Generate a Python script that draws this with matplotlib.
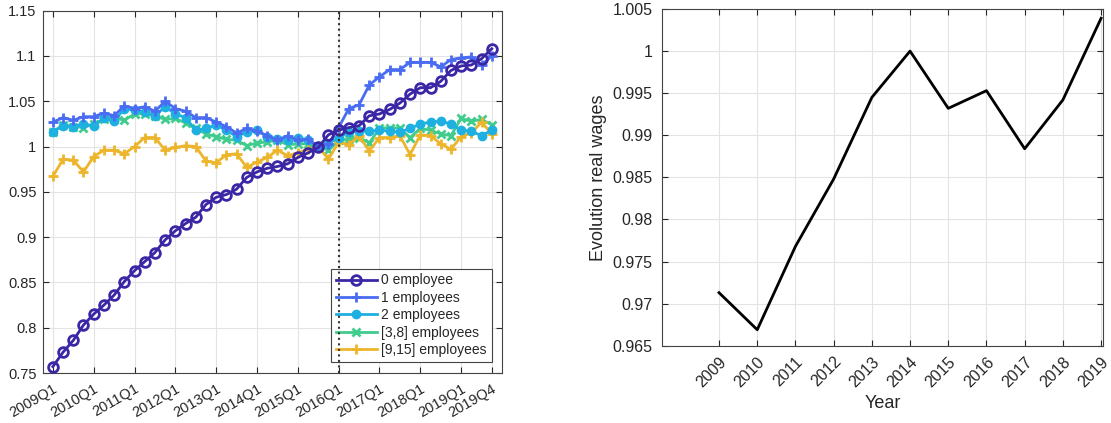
import numpy as np
import matplotlib
matplotlib.use('Agg')
import matplotlib.pyplot as plt
from matplotlib.ticker import FuncFormatter

plt.rcParams['font.family'] = ['Liberation Sans', 'DejaVu Sans']

# quarterly series, 2009Q1 .. 2019Q4
quarters = [f'{y}Q{q}' for y in range(2009, 2020) for q in range(1, 5)]

emp_0 = [0.757, 0.773, 0.786, 0.803, 0.815, 0.825, 0.836, 0.851, 0.863, 0.873,
         0.883, 0.897, 0.907, 0.915, 0.922, 0.936, 0.944, 0.947, 0.953, 0.966,
         0.972, 0.976, 0.978, 0.981, 0.988, 0.993, 0.999, 1.013, 1.018, 1.021,
         1.023, 1.034, 1.036, 1.041, 1.048, 1.058, 1.065, 1.065, 1.072, 1.084,
         1.089, 1.090, 1.097, 1.108]
emp_1 = [1.027, 1.032, 1.029, 1.033, 1.033, 1.037, 1.034, 1.045, 1.042, 1.044,
         1.039, 1.050, 1.042, 1.039, 1.032, 1.032, 1.027, 1.022, 1.015, 1.020,
         1.017, 1.012, 1.007, 1.012, 1.007, 1.008, 1.000, 1.003, 1.021, 1.042,
         1.046, 1.068, 1.077, 1.085, 1.085, 1.093, 1.093, 1.093, 1.088, 1.096,
         1.098, 1.099, 1.090, 1.100]
emp_2 = [1.016, 1.023, 1.022, 1.025, 1.023, 1.031, 1.028, 1.042, 1.040, 1.038,
         1.034, 1.044, 1.036, 1.032, 1.018, 1.020, 1.024, 1.018, 1.011, 1.016,
         1.018, 1.011, 1.008, 1.007, 1.010, 1.007, 1.001, 1.003, 1.010, 1.016,
         1.017, 1.017, 1.018, 1.017, 1.016, 1.020, 1.025, 1.027, 1.028, 1.025,
         1.018, 1.017, 1.012, 1.018]
emp_3_8 = [1.016, 1.024, 1.022, 1.021, 1.025, 1.030, 1.032, 1.029, 1.036, 1.036,
           1.034, 1.030, 1.031, 1.026, 1.020, 1.014, 1.011, 1.008, 1.007, 1.001,
           1.004, 1.005, 1.007, 1.002, 1.003, 1.003, 1.000, 0.996, 1.007, 1.008,
           1.010, 1.004, 1.020, 1.021, 1.020, 1.010, 1.020, 1.018, 1.014, 1.012,
           1.031, 1.028, 1.030, 1.024]
emp_9_15 = [0.967, 0.986, 0.985, 0.972, 0.989, 0.996, 0.996, 0.992, 1.000, 1.010,
            1.010, 0.996, 0.999, 1.001, 1.000, 0.984, 0.982, 0.991, 0.992, 0.977,
            0.983, 0.988, 0.996, 0.990, 0.993, 0.997, 1.000, 0.986, 1.005, 1.002,
            1.012, 0.995, 1.010, 1.010, 1.012, 0.991, 1.013, 1.012, 1.003, 0.997,
            1.011, 1.015, 1.027, 1.014]

years = [2009, 2010, 2011, 2012, 2013, 2014, 2015, 2016, 2017, 2018, 2019]
real_wages = [0.9713, 0.9669, 0.9768, 0.9848, 0.9945, 1.0000, 0.9932, 0.9953,
              0.9884, 0.9942, 1.0039]

txt = '#262626'
grid_c = '#e3e3e3'

fig = plt.figure(figsize=(11.11, 4.23), dpi=100)
ax1 = fig.add_axes([0.0384, 0.1182, 0.4134, 0.8565])
ax2 = fig.add_axes([0.5956, 0.1827, 0.3972, 0.796])

def short_num(v, pos):
    # matlab-like tick labels: 1, 1.05, 0.8 ...
    return f'{round(v, 6):g}'

def matlab_style(ax, fs, ypad):
    ax.grid(True, color=grid_c, lw=0.8)
    ax.set_axisbelow(True)
    ax.tick_params(direction='in', top=True, right=True, length=4,
                   colors=txt, labelsize=fs, width=0.8)
    ax.tick_params(axis='y', pad=ypad)
    ax.tick_params(axis='x', pad=6)
    for s in ax.spines.values():
        s.set_color('#444444')
        s.set_linewidth(0.8)
    ax.yaxis.set_major_formatter(FuncFormatter(short_num))

# left panel
x = np.arange(len(quarters))
ax1.plot(x, emp_0, color='#3b27a6', lw=2, marker='o', ms=7, mfc='none',
         mew=2, label='0 employee', zorder=6)
ax1.plot(x, emp_1, color='#4a6cf2', lw=2, marker='+', ms=7, mew=2,
         label='1 employees', zorder=5)
ax1.plot(x, emp_2, color='#1eb0e0', lw=2, marker='o', ms=6,
         label='2 employees', zorder=4)
ax1.plot(x, emp_3_8, color='#40cc8c', lw=2, marker='x', ms=5.5, mew=2,
         label='[3,8] employees', zorder=3)
ax1.plot(x, emp_9_15, color='#ecb52c', lw=2, marker='+', ms=7, mew=2,
         label='[9,15] employees', zorder=3)
ax1.axvline(quarters.index('2016Q1'), color='#333333', ls=':', lw=1.5, zorder=7)

ax1.set_xlim(-1, 44)
ax1.set_ylim(0.75, 1.15)
ax1.set_yticks(np.arange(0.75, 1.151, 0.05))
tick_idx = list(range(0, 44, 4)) + [43]
ax1.set_xticks(tick_idx)
ax1.set_xticklabels([quarters[i] for i in tick_idx], rotation=30,
                    ha='right', rotation_mode='anchor')
matlab_style(ax1, 10.5, 4.5)
leg = ax1.legend(loc='lower right', bbox_to_anchor=(0.978, 0.03), fontsize=10,
                 fancybox=False, framealpha=1, edgecolor='#444444',
                 handlelength=3.0, labelspacing=0.25, borderpad=0.35,
                 handletextpad=0.3, borderaxespad=0)
leg.get_frame().set_linewidth(0.8)
for t in leg.get_texts():
    t.set_color(txt)

# right panel
ax2.plot(years, real_wages, color='black', lw=2)
ax2.set_xlim(2007.5, 2019.05)
ax2.set_ylim(0.965, 1.005)
ax2.set_yticks(np.arange(0.965, 1.0051, 0.005))
ax2.set_xticks(years)
ax2.set_xticklabels([str(y) for y in years], rotation=45, ha='right',
                    rotation_mode='anchor')
matlab_style(ax2, 11.5, 6.5)
ax2.set_xlabel('Year', fontsize=13, color=txt)
ax2.set_ylabel('Evolution real wages', fontsize=13, color=txt)

fig.savefig('out.png', dpi=100)
